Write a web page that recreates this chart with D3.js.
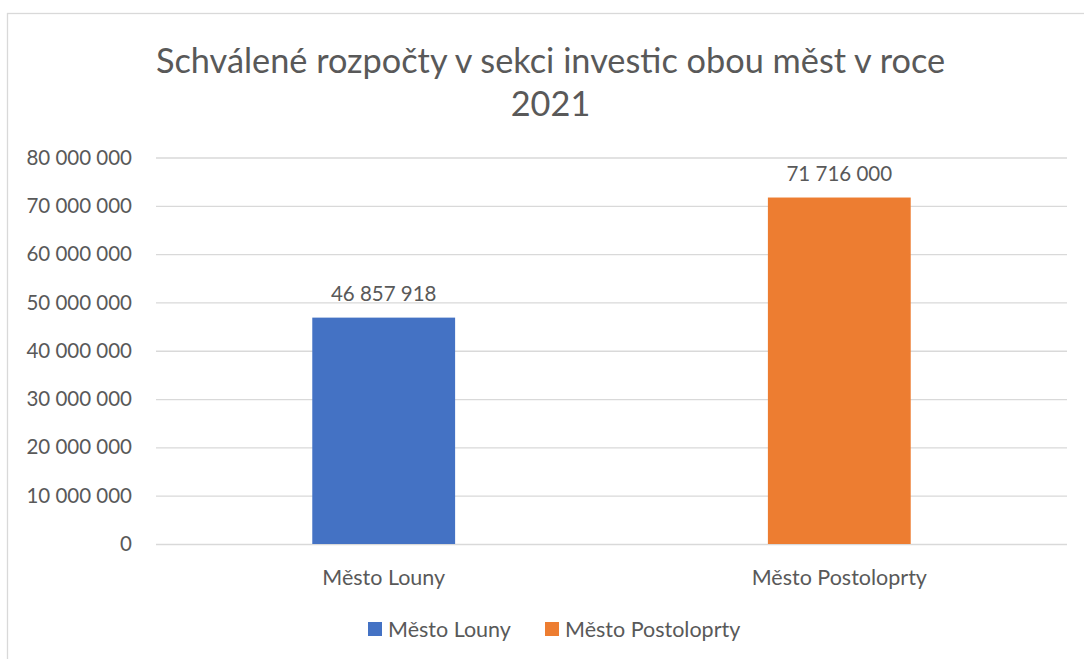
<!DOCTYPE html>
<html>
<head>
<meta charset="utf-8">
<script src="https://cdn.jsdelivr.net/npm/d3@7"></script>
<style>
  body { margin: 0; background: #fff; }
  text { font-family: Lato, "Open Sans", sans-serif; fill: #595959; }
</style>
</head>
<body>
<script>
// data
var categories = ["Město Louny", "Město Postoloprty"];
var values = [46857918, 71716000];
var colors = ["#4472C4", "#ED7D31"];
var yTicks = [0, 10000000, 20000000, 30000000, 40000000, 50000000, 60000000, 70000000, 80000000];
var titleLines = ["Schválené rozpočty v sekci investic obou měst v roce", "2021"];

var W = 1084, H = 659;
var margin = {top: 157.5, right: 17, bottom: 115, left: 156},
  width = W - margin.left - margin.right,
  height = H - margin.top - margin.bottom;

var svg = d3.select("body").append("svg")
  .attr("width", W)
  .attr("height", H);

// chart frame (only top and left are inside the picture)
svg.append("rect")
  .attr("x", 7.5).attr("y", 13.5)
  .attr("width", W + 20).attr("height", H + 20)
  .attr("fill", "none")
  .attr("stroke", "#D9D9D9")
  .attr("stroke-width", 1.3);

svg.append("text")
  .attr("x", 550.5)
  .attr("y", 73)
  .attr("text-anchor", "middle")
  .style("font-size", "34.3px")
  .selectAll("tspan")
  .data(titleLines)
  .enter().append("tspan")
    .attr("x", 550.5)
    .attr("dy", function(d, i) { return i ? 43 : 0; })
    .text(function(d) { return d; });

var g = svg.append("g")
  .attr("transform", "translate(" + margin.left + "," + margin.top + ")");

var x = d3.scaleBand().domain(categories).range([0, width]).paddingInner(0.6865).paddingOuter(0.343);
var y = d3.scaleLinear().domain([0, 80000000]).range([height, 0]);

var fmt = function(d) { return d3.format(",")(d).replace(/,/g, " "); };

// gridlines + tick labels
var yAxis = g.append("g")
  .attr("class", "y axis")
  .call(d3.axisLeft(y).tickValues(yTicks).tickSize(-width).tickPadding(24).tickFormat(fmt));
yAxis.select(".domain").remove();
yAxis.selectAll(".tick line").attr("stroke", "#D9D9D9").attr("stroke-width", 1.3);
yAxis.selectAll(".tick text")
  .attr("fill", "#595959")
  .style("font-family", "Lato, sans-serif")
  .style("font-size", "20.5px");

// category labels
var xAxis = g.append("g")
  .attr("class", "x axis")
  .attr("transform", "translate(0," + height + ")")
  .call(d3.axisBottom(x).tickSize(0).tickPadding(26));
xAxis.select(".domain").remove();
xAxis.selectAll(".tick text")
  .attr("fill", "#595959")
  .style("font-family", "Lato, sans-serif")
  .style("font-size", "21.5px");

g.selectAll(".bar")
  .data(values)
  .enter().append("rect")
    .attr("class", "bar")
    .attr("x", function(d, i) { return x(categories[i]); })
    .attr("width", x.bandwidth())
    .attr("y", function(d) { return y(d); })
    .attr("height", function(d) { return height - y(d); })
    .attr("fill", function(d, i) { return colors[i]; });

g.selectAll(".label")
  .data(values)
  .enter().append("text")
    .attr("class", "label")
    .attr("x", function(d, i) { return x(categories[i]) + x.bandwidth() / 2; })
    .attr("y", function(d) { return y(d) - 17; })
    .attr("text-anchor", "middle")
    .style("font-size", "20.5px")
    .text(fmt);

// legend
var legend = svg.append("g").attr("transform", "translate(0,622)");
var legendX = [368, 545];
var item = legend.selectAll(".item")
  .data(categories)
  .enter().append("g")
    .attr("class", "item")
    .attr("transform", function(d, i) { return "translate(" + legendX[i] + ",0)"; });
item.append("rect")
  .attr("width", 14).attr("height", 14)
  .attr("fill", function(d, i) { return colors[i]; });
item.append("text")
  .attr("x", 20)
  .attr("y", 14.5)
  .style("font-size", "21.5px")
  .text(function(d) { return d; });
</script>
</body>
</html>
